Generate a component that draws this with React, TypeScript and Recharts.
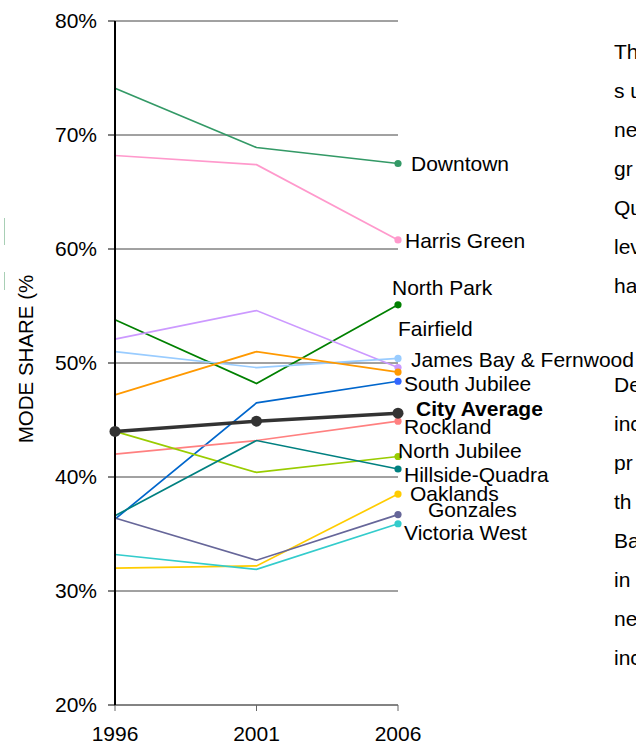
import { LineChart, Line, XAxis, YAxis, CartesianGrid } from 'recharts'

const years = [1996, 2001, 2006]
const yTicks = [20, 30, 40, 50, 60, 70, 80]

const downtown = [74.1, 68.9, 67.5]
const harrisGreen = [68.2, 67.4, 60.8]
const northPark = [53.8, 48.2, 55.1]
const fairfield = [52.1, 54.6, 49.6]
const jamesBay = [51.0, 49.6, 50.4]
const fernwood = [47.2, 51.0, 49.2]
const southJubilee = [36.3, 46.5, 48.4]
const cityAverage = [44.0, 44.9, 45.6]
const rockland = [42.0, 43.2, 44.9]
const northJubilee = [44.0, 40.4, 41.8]
const hillsideQuadra = [36.6, 43.2, 40.7]
const oaklands = [32.0, 32.2, 38.5]
const gonzales = [36.4, 32.7, 36.7]
const victoriaWest = [33.2, 31.9, 35.9]

const leftText = ['Th', 's u', 'ne', 'gr', 'Qu', 'lev', 'ha']
const lowerText = ['De', 'inc', 'pr', 'th', 'Ba', 'in', 'ne', 'inc']

const FONT = '"Liberation Sans", Arial, sans-serif'

// label offsets are relative to the 2006 point (dy = cap-centre offset)
const series = [
  { key: 'downtown', label: 'Downtown', values: downtown, color: '#339966', dx: 13, dy: 0 },
  { key: 'harrisGreen', label: 'Harris Green', values: harrisGreen, color: '#ff99cc', dx: 7, dy: 1 },
  { key: 'northPark', label: 'North Park', values: northPark, color: '#008000', dx: -6, dy: -17 },
  { key: 'fairfield', label: 'Fairfield', values: fairfield, color: '#cc99ff', dx: 0, dy: -39 },
  { key: 'jamesBay', label: 'James Bay & Fernwood', values: jamesBay, color: '#99ccff', dx: 13, dy: 1 },
  { key: 'fernwood', label: '', values: fernwood, color: '#ff9900', dx: 0, dy: 0 },
  { key: 'southJubilee', label: 'South Jubilee', values: southJubilee, color: '#0066cc', dot: '#3366ff', dx: 6, dy: 2 },
  { key: 'rockland', label: 'Rockland', values: rockland, color: '#ff8080', dx: 6, dy: 5 },
  { key: 'northJubilee', label: 'North Jubilee', values: northJubilee, color: '#99cc00', dx: 0, dy: -6 },
  { key: 'hillsideQuadra', label: 'Hillside-Quadra', values: hillsideQuadra, color: '#008080', dx: 6, dy: 5 },
  { key: 'oaklands', label: 'Oaklands', values: oaklands, color: '#ffcc00', dx: 12, dy: -1 },
  { key: 'gonzales', label: 'Gonzales', values: gonzales, color: '#666699', dx: 30, dy: -5 },
  { key: 'victoriaWest', label: 'Victoria West', values: victoriaWest, color: '#33cccc', dx: 6, dy: 9 },
]

const data = years.map((year, i) => {
  const row: Record<string, number> = { year, cityAverage: cityAverage[i] }
  series.forEach(s => { row[s.key] = s.values[i] })
  return row
})

function makeDot(s: any, bold = false) {
  return (props: any) => {
    const { cx, cy, index } = props
    const last = index === years.length - 1
    if (!bold && !last) return <g key={`${s.key}-${index}`} />
    return (
      <g key={`${s.key}-${index}`}>
        <circle cx={cx} cy={cy} r={bold ? 5.5 : 3.6} fill={s.dot || s.color} stroke="none" />
        {last && s.label && (
          <text
            x={cx + s.dx}
            y={cy + s.dy + 7.5}
            fontSize={21}
            fontFamily={FONT}
            fontWeight={bold ? 'bold' : 'normal'}
            fill="#000"
          >
            {s.label}
          </text>
        )}
      </g>
    )
  }
}

const city = { key: 'cityAverage', label: 'City Average', color: '#333333', dx: 18, dy: -5 }

export default function App() {
  return (
    <div style={{ position: 'fixed', left: 0, top: 0, width: 636, height: 746, overflow: 'hidden', background: '#fff', fontFamily: FONT }}>
      <div style={{ position: 'absolute', left: 4, top: 218, width: 1, height: 27, background: '#a8cfb5' }} />
      <div style={{ position: 'absolute', left: 4, top: 272, width: 1, height: 18, background: '#a8cfb5' }} />
      <LineChart width={636} height={746} data={data} margin={{ top: 21, right: 238, bottom: 0, left: 0 }}>
        <CartesianGrid vertical={false} stroke="#444" strokeWidth={1} />
        <XAxis
          dataKey="year"
          type="number"
          domain={[1996, 2006]}
          ticks={years}
          height={41}
          axisLine={{ stroke: '#666' }}
          tickLine={{ stroke: '#666' }}
          tickSize={6}
          tickMargin={15}
          tick={{ fontSize: 21, fill: '#000', fontFamily: FONT }}
        />
        <YAxis
          type="number"
          domain={[20, 80]}
          ticks={yTicks}
          width={115}
          tickFormatter={(v: number) => `${v}%`}
          axisLine={{ stroke: '#000', strokeWidth: 2 }}
          tickLine={{ stroke: '#000' }}
          tickSize={7}
          tickMargin={11}
          tick={{ fontSize: 21, fill: '#000', fontFamily: FONT }}
          label={() => (
            <text
              x={25}
              y={359}
              transform="rotate(-90 25 359)"
              textAnchor="middle"
              dominantBaseline="central"
              fontSize={20.5}
              fontFamily={FONT}
              fill="#000"
            >
              MODE SHARE (%
            </text>
          )}
        />
        {series.map(s => (
          <Line
            key={s.key}
            dataKey={s.key}
            stroke={s.color}
            strokeWidth={1.7}
            dot={makeDot(s)}
            activeDot={false}
            isAnimationActive={false}
          />
        ))}
        <Line
          dataKey="cityAverage"
          stroke={city.color}
          strokeWidth={3.5}
          dot={makeDot(city, true)}
          activeDot={false}
          isAnimationActive={false}
        />
      </LineChart>
      {leftText.map((t, i) => (
        <div key={`a${i}`} style={{ position: 'absolute', left: 614, top: 52 + i * 39 - 13, fontSize: 21, lineHeight: '26px', whiteSpace: 'nowrap', color: '#000' }}>
          {t}
        </div>
      ))}
      {lowerText.map((t, i) => (
        <div key={`b${i}`} style={{ position: 'absolute', left: 614, top: 385 + i * 39 - 13, fontSize: 21, lineHeight: '26px', whiteSpace: 'nowrap', color: '#000' }}>
          {t}
        </div>
      ))}
    </div>
  )
}
